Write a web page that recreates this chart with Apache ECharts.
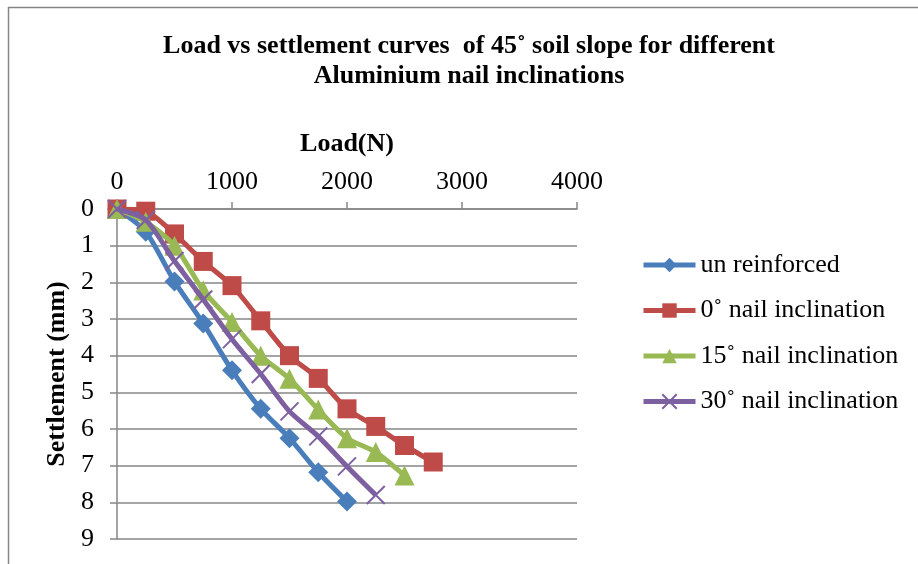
<!DOCTYPE html>
<html>
<head>
<meta charset="utf-8">
<script src="https://cdn.jsdelivr.net/npm/echarts@6/dist/echarts.min.js"></script>
<style>html,body{margin:0;padding:0;background:#fff}#c{width:918px;height:564px}</style>
</head>
<body>
<div id="c"></div>
<script>
const titleLines = ['Load vs settlement curves  of 45\u02da soil slope for different', 'Aluminium nail inclinations'];
const xAxisName = 'Load(N)';
const yAxisName = 'Settlement (mm)';
const seriesNames = ['un reinforced', '0\u02da nail inclination', '15\u02da nail inclination', '30\u02da nail inclination'];

const loadUnreinforced = [0, 250, 500, 750, 1000, 1250, 1500, 1750, 2000];
const settleUnreinforced = [0, 0.62, 1.98, 3.12, 4.4, 5.45, 6.25, 7.18, 7.98];

const load0 = [0, 250, 500, 750, 1000, 1250, 1500, 1750, 2000, 2250, 2500, 2750];
const settle0 = [0, 0.06, 0.68, 1.43, 2.09, 3.05, 4.0, 4.62, 5.45, 5.93, 6.45, 6.9];

const load15 = [0, 250, 500, 750, 1000, 1250, 1500, 1750, 2000, 2250, 2500];
const settle15 = [0, 0.35, 1.0, 2.22, 3.08, 4.0, 4.63, 5.47, 6.25, 6.63, 7.27];

const load30 = [0, 250, 500, 750, 1000, 1250, 1500, 1750, 2000, 2250];
const settle30 = [0, 0.3, 1.42, 2.47, 3.55, 4.5, 5.52, 6.2, 7.02, 7.8];

const colors = ['#4A7EBB', '#BE4B48', '#98B954', '#7D60A0'];
const symbols = ['diamond', 'rect', 'triangle', 'path://M0,0L10,10M10,0L0,10'];
const symbolSizes = [20, 19, 20, 18];

function pairs(xs, ys) { return xs.map((x, i) => [x, ys[i]]); }
const datasets = [
  pairs(loadUnreinforced, settleUnreinforced),
  pairs(load0, settle0),
  pairs(load15, settle15),
  pairs(load30, settle30)
];

const font = "'Liberation Serif', 'Times New Roman', serif";
const grey = '#868686';

const chart = echarts.init(document.getElementById('c'));
chart.setOption({
  animation: false,
  backgroundColor: '#fff',
  textStyle: { fontFamily: font, color: '#000' },
  graphic: [
    { type: 'rect', shape: { x: 8.5, y: 7.5, width: 1000, height: 1000 }, style: { fill: 'none', stroke: grey, lineWidth: 1.5 }, silent: true },
    { type: 'text', x: 469, y: 46, style: { text: titleLines[0], font: "bold 26px " + font, fill: '#000', textAlign: 'center', textVerticalAlign: 'middle' } },
    { type: 'text', x: 469, y: 76, style: { text: titleLines[1], font: "bold 26px " + font, fill: '#000', textAlign: 'center', textVerticalAlign: 'middle' } }
  ],
  grid: { left: 117, right: 341, top: 209, bottom: 25, containLabel: false },
  legend: {
    orient: 'vertical', left: 641, top: 250, padding: 0,
    itemWidth: 52, itemHeight: 18, itemGap: 15.5,
    lineStyle: { width: 5 },
    textStyle: { fontFamily: font, fontSize: 26, color: '#000', lineHeight: 30 },
    data: seriesNames
  },
  xAxis: {
    type: 'value', position: 'top', min: 0, max: 4000, interval: 1000,
    name: xAxisName, nameLocation: 'middle', nameGap: 52,
    nameTextStyle: { fontFamily: font, fontSize: 26, fontWeight: 'bold', color: '#000' },
    axisLine: { show: true, lineStyle: { color: grey, width: 1.5 } },
    axisTick: { show: true, length: 7, inside: false, lineStyle: { color: grey, width: 1.5 } },
    axisLabel: { fontFamily: font, fontSize: 26, color: '#000', margin: 14, formatter: v => String(v) },
    splitLine: { show: false }
  },
  yAxis: {
    type: 'value', inverse: true, min: 0, max: 9, interval: 1,
    name: yAxisName, nameLocation: 'middle', nameGap: 45, nameRotate: 90,
    nameTextStyle: { fontFamily: font, fontSize: 26, fontWeight: 'bold', color: '#000' },
    axisLine: { show: true, lineStyle: { color: grey, width: 1.5 } },
    axisTick: { show: true, length: 7, lineStyle: { color: grey, width: 1.5 } },
    axisLabel: { fontFamily: font, fontSize: 26, color: '#000', margin: 23, formatter: v => String(v) },
    splitLine: { show: true, lineStyle: { color: grey, width: 1.5 } }
  },
  series: seriesNames.map((n, i) => ({
    name: n, type: 'line', data: datasets[i], smooth: 0.25,
    symbol: symbols[i], symbolSize: symbolSizes[i], showSymbol: true,
    lineStyle: { color: colors[i], width: 5 },
    itemStyle: i === 3 ? { color: colors[i], borderColor: colors[i], borderWidth: 2 } : { color: colors[i], borderWidth: 0 },
    z: 2 + i
  }))
});
</script>
</body>
</html>
